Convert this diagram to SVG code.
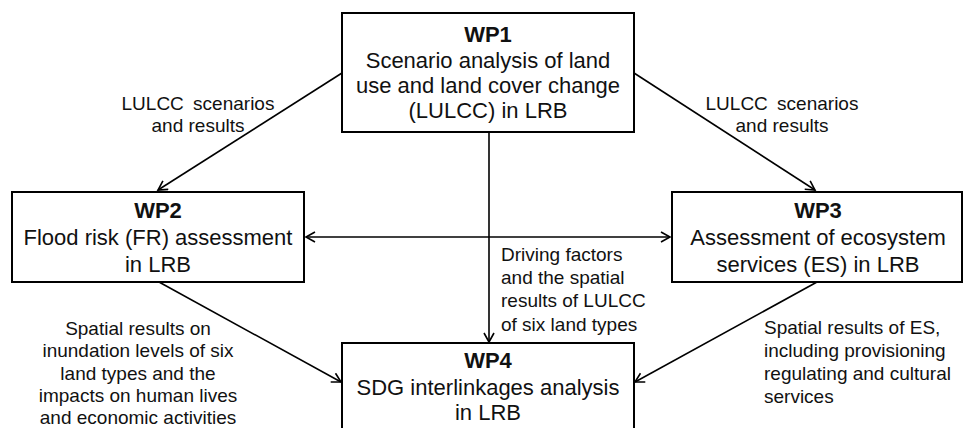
<svg xmlns="http://www.w3.org/2000/svg" width="963" height="428" viewBox="0 0 963 428">
<defs>
<style>
.box{fill:#fff;stroke:#000;stroke-width:2}
.t{font-family:"Liberation Sans",Arial,sans-serif;font-size:22px;fill:#111;text-anchor:middle}
.b{font-weight:bold}
.l{font-family:"Liberation Sans",Arial,sans-serif;font-size:19px;fill:#111}
.c{text-anchor:middle}
.w{word-spacing:4px}
.e{fill:none;stroke:#000;stroke-width:1.6}
</style>
<marker id="ah" markerUnits="userSpaceOnUse" markerWidth="14" markerHeight="14" refX="10" refY="6" orient="auto-start-reverse">
<path d="M1,1 L10,6 L1,11" fill="none" stroke="#000" stroke-width="1.6"/>
</marker>
</defs>
<rect width="963" height="428" fill="#fff"/>
<g id="connectors">
<line class="e" x1="342" y1="73" x2="158" y2="190" marker-end="url(#ah)"/>
<line class="e" x1="634" y1="73" x2="815" y2="190" marker-end="url(#ah)"/>
<line class="e" x1="489" y1="132" x2="489" y2="342" marker-end="url(#ah)"/>
<line class="e" x1="306" y1="237" x2="670" y2="237" marker-start="url(#ah)" marker-end="url(#ah)"/>
<line class="e" x1="159" y1="282" x2="341" y2="382" marker-end="url(#ah)"/>
<line class="e" x1="817" y1="282" x2="635" y2="382" marker-end="url(#ah)"/>
<text class="l c w" x="198" y="110">LULCC scenarios</text>
<text class="l c" x="198" y="132">and results</text>
<text class="l c w" x="782" y="110">LULCC scenarios</text>
<text class="l c" x="782" y="132">and results</text>
<text class="l" x="501" y="261">Driving factors</text>
<text class="l" x="501" y="284">and the spatial</text>
<text class="l" x="501" y="307">results of LULCC</text>
<text class="l" x="501" y="331">of six land types</text>
<text class="l c" x="138" y="335">Spatial results on</text>
<text class="l c" x="138" y="357">inundation levels of six</text>
<text class="l c" x="138" y="380">land types and the</text>
<text class="l c" x="138" y="402">impacts on human lives</text>
<text class="l c" x="138" y="424">and economic activities</text>
<text class="l" x="764" y="334">Spatial results of ES,</text>
<text class="l" x="764" y="357">including provisioning</text>
<text class="l" x="764" y="380">regulating and cultural</text>
<text class="l" x="764" y="403">services</text>
</g>
<g id="wp1">
<rect class="box" x="342" y="13" width="292" height="119"/>
<text class="t b" x="488" y="42">WP1</text>
<text class="t" x="488" y="68">Scenario analysis of land</text>
<text class="t" x="488" y="93">use and land cover change</text>
<text class="t" x="488" y="118">(LULCC) in LRB</text>
</g>
<g id="wp2">
<rect class="box" x="12" y="192" width="292" height="90"/>
<text class="t b" x="158" y="218">WP2</text>
<text class="t" x="158" y="245">Flood risk (FR) assessment</text>
<text class="t" x="158" y="272">in LRB</text>
</g>
<g id="wp3">
<rect class="box" x="672" y="192" width="290" height="90"/>
<text class="t b" x="818" y="218">WP3</text>
<text class="t" x="818" y="245">Assessment of ecosystem</text>
<text class="t" x="818" y="272">services (ES) in LRB</text>
</g>
<g id="wp4">
<rect class="box" x="342" y="343" width="292" height="100"/>
<text class="t b" x="488" y="368">WP4</text>
<text class="t" x="488" y="395">SDG interlinkages analysis</text>
<text class="t" x="488" y="420">in LRB</text>
</g>
</svg>
